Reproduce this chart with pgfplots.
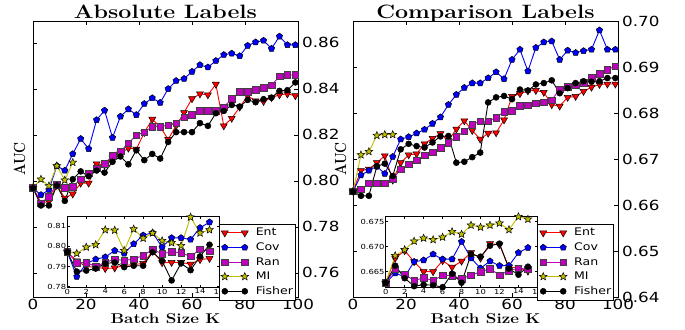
\documentclass[border=0pt]{standalone}
\usepackage{fontspec}
\usepackage{graphicx}
\usepackage{pgfplots}
\usepackage{pgfplotstable}
\pgfplotsset{compat=1.18}
\usetikzlibrary{plotmarks}
\newfontfamily\dvs[FakeStretch=1.2]{DejaVu Sans}
\definecolor{mpm}{rgb}{0.75,0,0.75}
\definecolor{mpy}{rgb}{0.75,0.75,0}

\pgfdeclareplotmark{fstar}{%
  \pgfpathmoveto{\pgfpointpolar{90}{\pgfplotmarksize}}%
  \pgfpathlineto{\pgfpointpolar{126}{0.45\pgfplotmarksize}}%
  \pgfpathlineto{\pgfpointpolar{162}{\pgfplotmarksize}}%
  \pgfpathlineto{\pgfpointpolar{198}{0.45\pgfplotmarksize}}%
  \pgfpathlineto{\pgfpointpolar{234}{\pgfplotmarksize}}%
  \pgfpathlineto{\pgfpointpolar{270}{0.45\pgfplotmarksize}}%
  \pgfpathlineto{\pgfpointpolar{306}{\pgfplotmarksize}}%
  \pgfpathlineto{\pgfpointpolar{342}{0.45\pgfplotmarksize}}%
  \pgfpathlineto{\pgfpointpolar{18}{\pgfplotmarksize}}%
  \pgfpathlineto{\pgfpointpolar{54}{0.45\pgfplotmarksize}}%
  \pgfpathclose
  \pgfusepathqfillstroke
}

\pgfplotsset{
  sEnt/.style={red, line width=0.9bp, mark=triangle*, mark size=4bp, mark options={rotate=180, fill=red, draw=black, line width=0.5bp}},
  sCov/.style={blue, line width=0.9bp, mark=pentagon*, mark size=3.3bp, mark options={fill=blue, draw=black, line width=0.5bp}},
  sRan/.style={mpm, line width=0.9bp, mark=square*, mark size=3.3bp, mark options={fill=mpm, draw=black!75, line width=0.5bp}},
  sMI/.style={mpy, line width=0.9bp, mark=fstar, mark size=4bp, mark options={fill=mpy, draw=black, line width=0.5bp}},
  sFis/.style={black, line width=0.9bp, mark=*, mark size=3bp, mark options={fill=black, draw=black, line width=0.5bp}},
  mainax/.style={anchor=south west, scale only axis, width=265bp, height=276bp,
    xmin=0, xmax=100, xtick={0,20,40,60,80,100},
    axis line style={line width=0.8bp}, tick align=inside,
    xtick pos=both, ytick pos=both, yticklabel pos=right,
    major tick length=4bp, tick style={line width=0.6bp, black},
    scaled ticks=false,
    ticklabel style={font=\dvs\fontsize{14}{16}\selectfont},
    /pgf/number format/assume math mode=true,
    xticklabel style={inner sep=1.5bp},
    yticklabel style={inner sep=4bp, /pgf/number format/.cd, fixed, fixed zerofill, precision=2},
    every axis title/.style={at={(axis description cs:0.5,1)}, anchor=base, yshift=2.7bp},
    every axis x label/.style={at={(axis description cs:0.5,0)}, anchor=base, yshift=-26.5bp},
    ylabel style={anchor=base},
    xlabel={\scalebox{1.2}[1]{\fontsize{14.2}{16}\selectfont\bfseries Batch Size\ K}},
    ylabel={\scalebox{1}[1.2]{\fontsize{13.5}{16}\selectfont\bfseries AUC}},
  },
  insetax/.style={anchor=south west, scale only axis, width=151.7bp, height=71bp,
    xmin=0, xmax=16, xtick={0,2,4,6,8,10,12,14,16},
    axis background/.style={fill=white},
    axis line style={line width=0.7bp}, tick align=inside,
    xtick pos=both, ytick pos=both,
    major tick length=2.5bp, tick style={line width=0.5bp, black},
    scaled ticks=false,
    ticklabel style={font=\dvs\fontsize{7}{8}\selectfont, inner sep=1bp},
    /pgf/number format/assume math mode=true,
    legend image code/.code={\draw[##1] plot coordinates {(0bp,0bp) (20bp,0bp)}; \path (-4bp,0bp) (29bp,0bp);},
    legend style={at={(1,0.897)}, anchor=north west, draw=black, line width=0.7bp, fill=white,
      inner xsep=1bp, inner ysep=2.5bp, row sep=2.4bp,
      font=\dvs\fontsize{10.5}{12}\selectfont, nodes={inner sep=1.5bp}},
    legend cell align=left,
  },
}

\pgfplotstableread{
x ent cov ran fis
0 0.7970 0.7968 0.7970 0.7968
3 0.7905 0.7939 0.7903 0.7893
6 0.7910 0.7961 0.7932 0.7893
9 0.7980 0.8065 0.7983 0.7980
12 0.7925 0.8045 0.7971 0.7913
15 0.7943 0.8117 0.7975 0.8007
18 0.7990 0.8183 0.8007 0.8041
21 0.7990 0.8139 0.8033 0.8020
24 0.8074 0.8265 0.8055 0.8045
27 0.8068 0.8306 0.8074 0.8036
30 0.8099 0.8188 0.8109 0.8083
33 0.8120 0.8280 0.8128 0.8106
36 0.8142 0.8312 0.8164 0.8072
39 0.8138 0.8287 0.8198 0.8133
42 0.8210 0.8335 0.8212 0.8090
45 0.8268 0.8360 0.8236 0.8117
48 0.8235 0.8340 0.8236 0.8097
51 0.8180 0.8400 0.8242 0.8169
54 0.8240 0.8435 0.8251 0.8212
57 0.8297 0.8444 0.8277 0.8212
60 0.8357 0.8475 0.8287 0.8212
63 0.8378 0.8504 0.8306 0.8251
66 0.8374 0.8494 0.8306 0.8239
69 0.8420 0.8522 0.8306 0.8294
72 0.8239 0.8548 0.8320 0.8304
75 0.8272 0.8554 0.8357 0.8330
78 0.8320 0.8543 0.8388 0.8323
81 0.8370 0.8588 0.8388 0.8352
84 0.8348 0.8603 0.8395 0.8342
87 0.8345 0.8610 0.8405 0.8355
90 0.8362 0.8575 0.8415 0.8362
93 0.8374 0.8628 0.8455 0.8391
96 0.8378 0.8591 0.8460 0.8394
99 0.8370 0.8591 0.8460 0.8428
}\leftmain

\pgfplotstableread{
x mi
0 0.7970
3 0.8007
6 0.7978
9 0.8065
12 0.8003
15 0.8080
}\leftmi

\pgfplotstableread{
x ent cov ran fis
0 0.6630 0.6629 0.6630 0.6629
3 0.6675 0.6665 0.6634 0.6620
6 0.6678 0.6675 0.6647 0.6620
9 0.6692 0.6684 0.6647 0.6684
12 0.6707 0.6668 0.6647 0.6690
15 0.6654 0.6705 0.6656 0.6663
18 0.6692 0.6743 0.6678 0.6721
21 0.6709 0.6748 0.6689 0.6733
24 0.6711 0.6756 0.6697 0.6728
27 0.6733 0.6764 0.6708 0.6725
30 0.6745 0.6777 0.6715 0.6736
33 0.6755 0.6791 0.6725 0.6749
36 0.6740 0.6818 0.6735 0.6750
39 0.6765 0.6840 0.6748 0.6692
42 0.6783 0.6855 0.6760 0.6694
45 0.6762 0.6865 0.6775 0.6704
48 0.6743 0.6865 0.6782 0.6714
51 0.6756 0.6876 0.6782 0.6823
54 0.6757 0.6889 0.6790 0.6834
57 0.6785 0.6874 0.6803 0.6837
60 0.6836 0.6916 0.6805 0.6830
63 0.6842 0.6938 0.6816 0.6851
66 0.6848 0.6891 0.6817 0.6849
69 0.6849 0.6942 0.6821 0.6862
72 0.6845 0.6954 0.6823 0.6865
75 0.6818 0.6956 0.6828 0.6871
78 0.6815 0.6916 0.6852 0.6843
81 0.6834 0.6936 0.6857 0.6854
84 0.6836 0.6931 0.6860 0.6865
87 0.6847 0.6935 0.6866 0.6869
90 0.6856 0.6938 0.6876 0.6868
93 0.6862 0.6980 0.6885 0.6869
96 0.6863 0.6938 0.6894 0.6876
99 0.6863 0.6938 0.6902 0.6876
}\rightmain

\pgfplotstableread{
x mi
0 0.6630
3 0.6709
6 0.6716
9 0.6751
12 0.6753
15 0.6753
}\rightmi

\pgfplotstableread{
k ent cov ran mi fis
0 0.7972 0.7972 0.7972 0.7972 0.7972
1 0.7928 0.7850 0.7918 0.7965 0.7875
2 0.7900 0.7915 0.7920 0.7996 0.7880
3 0.7896 0.7936 0.7900 0.8008 0.7890
4 0.7890 0.7947 0.7920 0.8082 0.7915
5 0.7893 0.7979 0.7936 0.8080 0.7920
6 0.7905 0.7965 0.7930 0.7979 0.7897
7 0.7910 0.8012 0.7937 0.8086 0.7904
8 0.7915 0.8055 0.7954 0.8040 0.7904
9 0.7977 0.8067 0.7985 0.8066 0.7971
10 0.7919 0.7996 0.7963 0.8028 0.7928
11 0.7920 0.8042 0.7973 0.8018 0.7831
12 0.7920 0.8042 0.7968 0.8003 0.7916
13 0.7912 0.8034 0.7950 0.8145 0.7882
14 0.7934 0.8092 0.7985 0.8066 0.7950
15 0.7940 0.8120 0.7975 0.8082 0.8008
}\leftinset

\pgfplotstableread{
k ent cov ran mi fis
0 0.6628 0.6628 0.6628 0.6628 0.6628
1 0.6677 0.6647 0.6655 0.6682 0.6662
2 0.6692 0.6640 0.6645 0.6694 0.6637
3 0.6670 0.6670 0.6632 0.6711 0.6621
4 0.6650 0.6673 0.6638 0.6717 0.6624
5 0.6650 0.6685 0.6632 0.6714 0.6623
6 0.6672 0.6675 0.6643 0.6719 0.6619
7 0.6659 0.6675 0.6642 0.6730 0.6646
8 0.6671 0.6710 0.6636 0.6725 0.6628
9 0.6688 0.6677 0.6643 0.6743 0.6685
10 0.6677 0.6657 0.6650 0.6739 0.6680
11 0.6706 0.6671 0.6656 0.6743 0.6702
12 0.6704 0.6662 0.6643 0.6747 0.6706
13 0.6659 0.6662 0.6652 0.6734 0.6656
14 0.6658 0.6688 0.6657 0.6760 0.6644
15 0.6651 0.6698 0.6655 0.6755 0.6660
}\rightinset

\begin{document}
\begin{tikzpicture}
\useasboundingbox (0,0) rectangle (685bp,330bp);

% ---------- left main ----------
\begin{axis}[mainax, at={(33bp,33bp)},
  ymin=0.7495, ymax=0.8695, ytick={0.76,0.78,0.80,0.82,0.84,0.86},
  title={\scalebox{1.2}[1]{\fontsize{19.4}{22}\selectfont\bfseries Absolute Labels}},
  ylabel style={at={(axis description cs:-0.030,0.5)}}]
\addplot[sEnt] table[x=x,y=ent]{\leftmain};
\addplot[sCov] table[x=x,y=cov]{\leftmain};
\addplot[sRan] table[x=x,y=ran]{\leftmain};
\addplot[sMI] table[x=x,y=mi]{\leftmi};
\addplot[sFis] table[x=x,y=fis]{\leftmain};
\end{axis}

\begin{axis}[insetax, at={(67.3bp,42.3bp)},
  ymin=0.7795, ymax=0.8147, ytick={0.78,0.79,0.80,0.81},
  yticklabel style={/pgf/number format/.cd, fixed, fixed zerofill, precision=2}]
\addplot[sEnt] table[x=k,y=ent]{\leftinset}; \addlegendentry{Ent}
\addplot[sCov] table[x=k,y=cov]{\leftinset}; \addlegendentry{Cov}
\addplot[sRan] table[x=k,y=ran]{\leftinset}; \addlegendentry{Ran}
\addplot[sMI] table[x=k,y=mi]{\leftinset}; \addlegendentry{MI}
\addplot[sFis] table[x=k,y=fis]{\leftinset}; \addlegendentry{Fisher}
\end{axis}

% ---------- right main ----------
\begin{axis}[mainax, at={(353bp,33bp)},
  ymin=0.64, ymax=0.70, ytick={0.64,0.65,0.66,0.67,0.68,0.69,0.70},
  title={\scalebox{1.2}[1]{\fontsize{19.4}{22}\selectfont\bfseries Comparison Labels}},
  ylabel style={at={(axis description cs:-0.026,0.5)}}]
\addplot[sEnt] table[x=x,y=ent]{\rightmain};
\addplot[sCov] table[x=x,y=cov]{\rightmain};
\addplot[sRan] table[x=x,y=ran]{\rightmain};
\addplot[sMI] table[x=x,y=mi]{\rightmi};
\addplot[sFis] table[x=x,y=fis]{\rightmain};
\end{axis}

\begin{axis}[insetax, at={(385.7bp,42.3bp)},
  ymin=0.6618, ymax=0.6760, ytick={0.665,0.670,0.675},
  yticklabel style={/pgf/number format/.cd, fixed, fixed zerofill, precision=3}]
\addplot[sEnt] table[x=k,y=ent]{\rightinset}; \addlegendentry{Ent}
\addplot[sCov] table[x=k,y=cov]{\rightinset}; \addlegendentry{Cov}
\addplot[sRan] table[x=k,y=ran]{\rightinset}; \addlegendentry{Ran}
\addplot[sMI] table[x=k,y=mi]{\rightinset}; \addlegendentry{MI}
\addplot[sFis] table[x=k,y=fis]{\rightinset}; \addlegendentry{Fisher}
\end{axis}
\end{tikzpicture}
\end{document}
